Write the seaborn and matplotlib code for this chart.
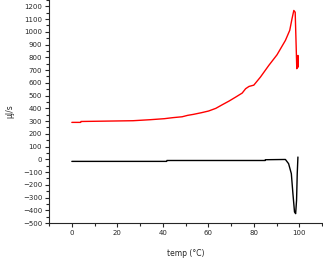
import matplotlib
matplotlib.use("Agg")
import matplotlib.pyplot as plt
import seaborn as sns
import pandas as pd
from matplotlib.ticker import MultipleLocator

# Heating curve (red)
temp_heat = [0, 3.9, 4.0, 26.9, 34.5, 40.7, 44.4, 48.5, 50.9, 53.5, 57.0, 60.1, 63.3,
             66.2, 69.1, 72.0, 74.9, 76.4, 77.9, 80.0, 82.9, 86.6, 90.2, 93.9, 95.8,
             96.8, 97.6, 98.2, 98.7, 98.9, 99.1, 99.3, 99.4, 99.5]
heat = [290, 290, 297, 303, 311, 319, 327, 334, 345, 353, 366, 379, 400,
        429, 457, 488, 520, 554, 572, 582, 645, 737, 820, 933, 1012,
        1103, 1168, 1154, 841, 711, 800, 720, 815, 730]

# Cooling curve (black)
temp_cool = [0, 41.7, 41.8, 85.0, 85.1, 93.9, 95.3, 96.5, 97.2, 97.9, 98.4, 98.8, 99.1, 99.4]
cool = [-16, -16, -9, -9, -3, -1, -34, -112, -269, -413, -426, -321, -112, 18]

df = pd.concat([
    pd.DataFrame({"temp": temp_heat, "val": heat, "series": "heat"}),
    pd.DataFrame({"temp": temp_cool, "val": cool, "series": "cool"}),
])

sns.set_style("ticks")
plt.rcParams['font.family'] = ['DejaVu Sans']
fig = plt.figure(figsize=(3.23, 2.60), dpi=100)
ax = fig.add_axes([0.152, 0.142, 0.845, 0.858])
sns.lineplot(data=df, x="temp", y="val", hue="series", palette={"heat": "red", "cool": "black"},
             sort=False, estimator=None, linewidth=1.0, legend=False, ax=ax)
ax.set_xlim(-10, 110)
ax.set_ylim(-500, 1250)
ax.xaxis.set_major_locator(MultipleLocator(20))
ax.xaxis.set_minor_locator(MultipleLocator(10))
ax.yaxis.set_major_locator(MultipleLocator(100))
ax.yaxis.set_minor_locator(MultipleLocator(50))
ax.tick_params(axis="both", which="major", labelsize=5, length=3, width=0.8, pad=2)
ax.tick_params(axis="both", which="minor", length=2, width=0.8)
ax.set_yticks(range(-500, 1201, 100))
for s in ["top", "right"]:
    ax.spines[s].set_visible(False)
for s in ["left", "bottom"]:
    ax.spines[s].set_linewidth(0.8)
ax.set_xlabel("temp (°C)", fontsize=5.5, labelpad=9)
ax.set_ylabel("µJ/s", fontsize=5.5, labelpad=6)
fig.savefig("out.png", dpi=100)
